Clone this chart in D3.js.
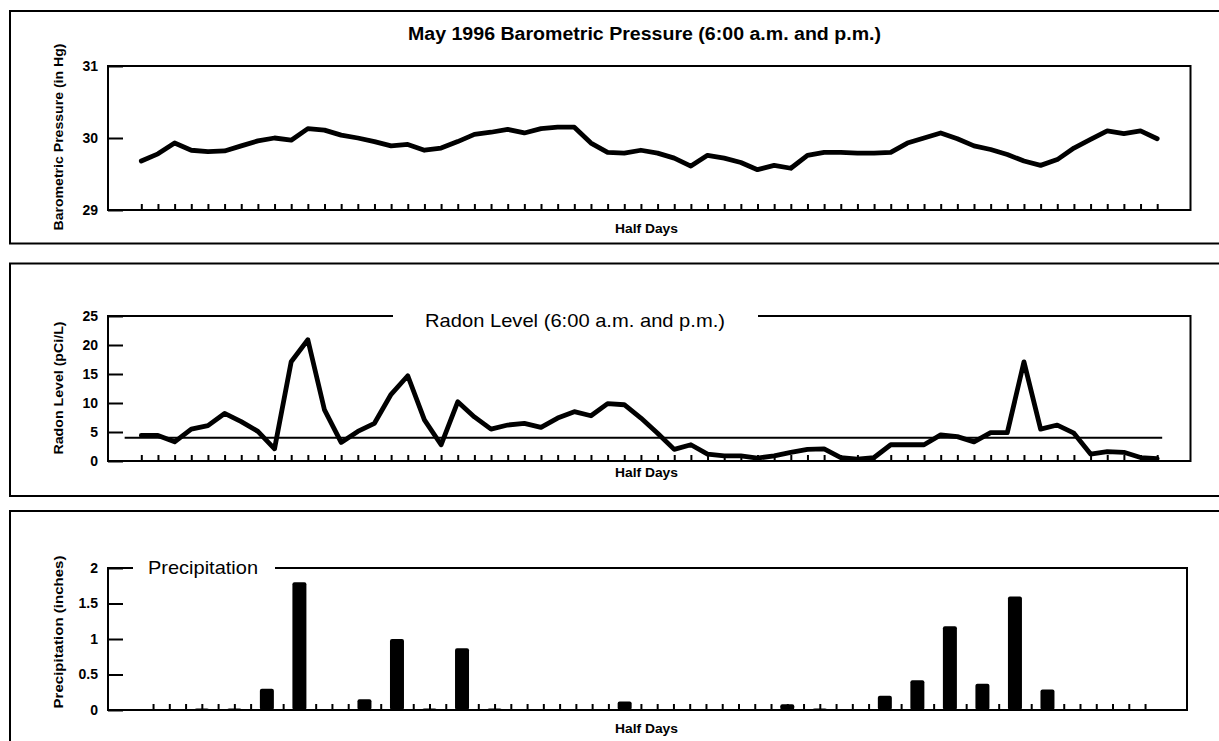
<!DOCTYPE html>
<html>
<head>
<meta charset="utf-8">
<script src="https://cdn.jsdelivr.net/npm/d3@7"></script>
<style>
  body { margin: 0; background: #fff; }
  text { font-family: "Liberation Sans", Arial, Helvetica, sans-serif; fill: #000; }
</style>
</head>
<body>
<svg id="chart" width="1219" height="741"></svg>
<script>
// Half-day readings for May 1996: index 0 = May 1 6:00 a.m., index 61 = May 31 6:00 p.m.
const halfDays = d3.range(62);

// Barometric pressure (in Hg)
const pressure = [
  29.68, 29.78, 29.93, 29.83, 29.81, 29.82, 29.89, 29.96, 30.00, 29.97,
  30.13, 30.11, 30.04, 30.00, 29.95, 29.89, 29.91, 29.83, 29.86, 29.95,
  30.05, 30.08, 30.12, 30.07, 30.13, 30.15, 30.15, 29.93, 29.80, 29.79,
  29.83, 29.79, 29.72, 29.61, 29.76, 29.72, 29.66, 29.56, 29.62, 29.58,
  29.76, 29.80, 29.80, 29.79, 29.79, 29.80, 29.93, 30.00, 30.07, 29.99,
  29.89, 29.84, 29.77, 29.68, 29.62, 29.70, 29.86, 29.98, 30.10, 30.06,
  30.10, 29.99
];

// Radon level (pCi/L)
const radon = [
  4.4, 4.4, 3.3, 5.5, 6.1, 8.2, 6.8, 5.1, 2.1, 17.1,
  20.9, 8.8, 3.2, 5.1, 6.5, 11.5, 14.7, 7.1, 2.8, 10.2,
  7.6, 5.5, 6.2, 6.5, 5.8, 7.4, 8.5, 7.8, 9.9, 9.7,
  7.4, 4.8, 2.0, 2.8, 1.2, 0.9, 0.9, 0.5, 0.9, 1.5,
  2.0, 2.1, 0.6, 0.3, 0.6, 2.8, 2.8, 2.8, 4.5, 4.2,
  3.3, 4.9, 4.9, 17.1, 5.5, 6.2, 4.8, 1.2, 1.6, 1.5,
  0.6, 0.4
];
const radonActionLevel = 4;

// Precipitation (inches)
const precipitation = [
  0, 0, 0, 0.02, 0, 0.02, 0, 0.30, 0, 1.80,
  0, 0, 0, 0.15, 0, 1.00, 0, 0.02, 0, 0.87,
  0, 0.02, 0, 0, 0, 0, 0, 0, 0, 0.12,
  0, 0, 0, 0, 0, 0, 0, 0, 0, 0.08,
  0, 0.02, 0, 0, 0, 0.20, 0, 0.42, 0, 1.18,
  0, 0.37, 0, 1.60, 0, 0.29, 0, 0, 0, 0,
  0, 0
];

const pressureTicks = [29, 30, 31];
const radonTicks = [0, 5, 10, 15, 20, 25];
const precipTicks = [0, 0.5, 1, 1.5, 2];

const svg = d3.select("#chart");

// Outer panel frames (open to the right edge)
[[11, 243.5], [263.5, 496], [511, 745]].forEach(([t, b]) => {
  svg.append("rect")
    .attr("x", 10).attr("y", t)
    .attr("width", 1240).attr("height", b - t)
    .attr("fill", "none").attr("stroke", "#000").attr("stroke-width", 2);
});

function yAxis(g, y, ticks, fmt) {
  g.call(d3.axisLeft(y).tickValues(ticks).tickSizeInner(-15).tickSizeOuter(0)
    .tickPadding(10).tickFormat(fmt));
  g.select(".domain").remove();
  g.selectAll(".tick line").attr("stroke", "#000").attr("stroke-width", 2);
  g.selectAll(".tick text").attr("font-size", 14).attr("font-weight", "bold")
    .attr("font-family", "'Liberation Sans', Arial, sans-serif").attr("fill", "#000");
}

function xAxis(g, x) {
  g.call(d3.axisBottom(x).tickValues(halfDays).tickSizeInner(-6).tickSizeOuter(0).tickFormat(""));
  g.select(".domain").remove();
  g.selectAll(".tick line").attr("stroke", "#000").attr("stroke-width", 2);
}

function frame(g, l, r, t, b, gap) {
  const p = d3.path();
  if (gap) {
    p.moveTo(gap[1], t); p.lineTo(r, t); p.lineTo(r, b); p.lineTo(l, b); p.lineTo(l, t); p.lineTo(gap[0], t);
  } else {
    p.moveTo(l, t); p.lineTo(r, t); p.lineTo(r, b); p.lineTo(l, b); p.closePath();
  }
  g.append("path").attr("d", p.toString()).attr("fill", "none")
    .attr("stroke", "#000").attr("stroke-width", 2).attr("stroke-linejoin", "miter");
}

function sideLabel(text, cy, len) {
  svg.append("text")
    .attr("transform", `translate(63,${cy}) rotate(-90)`)
    .attr("text-anchor", "middle")
    .attr("font-size", 12).attr("font-weight", "bold")
    .attr("textLength", len).attr("lengthAdjust", "spacingAndGlyphs")
    .text(text);
}

function halfDaysLabel(yPos) {
  svg.append("text")
    .attr("x", 646.5).attr("y", yPos)
    .attr("text-anchor", "middle")
    .attr("font-size", 12.5).attr("font-weight", "bold")
    .attr("textLength", 63).attr("lengthAdjust", "spacingAndGlyphs")
    .text("Half Days");
}

const lineStyle = sel => sel.attr("fill", "none").attr("stroke", "#000")
  .attr("stroke-width", 4.8).attr("stroke-linejoin", "round").attr("stroke-linecap", "round");

// ---------- Barometric pressure ----------
{
  const L = 108, R = 1190.5, T = 66, B = 210;
  const x = d3.scaleLinear().domain([-2, 63]).range([L, R]);
  const y = d3.scaleLinear().domain([29, 31]).range([B, T]);
  const g = svg.append("g");

  svg.append("text").attr("x", 644.5).attr("y", 40)
    .attr("text-anchor", "middle").attr("font-size", 18).attr("font-weight", "bold")
    .attr("textLength", 473).attr("lengthAdjust", "spacingAndGlyphs")
    .text("May 1996 Barometric Pressure (6:00 a.m. and p.m.)");

  g.append("g").attr("transform", `translate(${L},0)`).call(yAxis, y, pressureTicks, d3.format("d"));
  g.append("g").attr("transform", `translate(0,${B})`).call(xAxis, x);
  frame(g, L, R, T, B, null);

  g.append("path").datum(pressure)
    .attr("d", d3.line().x((d, i) => x(halfDays[i])).y(d => y(d)))
    .call(lineStyle);

  sideLabel("Barometric Pressure (in Hg)", 137, 187);
  halfDaysLabel(233);
}

// ---------- Radon level ----------
{
  const L = 108, R = 1190.5, T = 316, B = 461;
  const x = d3.scaleLinear().domain([-2, 63]).range([L, R]);
  const y = d3.scaleLinear().domain([0, 25]).range([B, T]);
  const g = svg.append("g");

  svg.append("text").attr("x", 425).attr("y", 327)
    .attr("font-size", 19)
    .attr("textLength", 300).attr("lengthAdjust", "spacingAndGlyphs")
    .text("Radon Level (6:00 a.m. and p.m.)");

  g.append("g").attr("transform", `translate(${L},0)`).call(yAxis, y, radonTicks, d3.format("d"));
  g.append("g").attr("transform", `translate(0,${B})`).call(xAxis, x);
  frame(g, L, R, T, B, [425 - 32, 425 + 300 + 33]);

  // 4 pCi/L action level
  g.append("line")
    .attr("x1", x(-1)).attr("x2", x(61.3))
    .attr("y1", y(radonActionLevel)).attr("y2", y(radonActionLevel))
    .attr("stroke", "#000").attr("stroke-width", 2);

  g.append("path").datum(radon)
    .attr("d", d3.line().x((d, i) => x(halfDays[i])).y(d => y(d)))
    .call(lineStyle);

  sideLabel("Radon Level (pCi/L)", 388, 133);
  halfDaysLabel(477);
}

// ---------- Precipitation ----------
{
  const L = 108, R = 1187, T = 568, B = 710;
  const x = d3.scaleLinear().domain([-2.77, 63.58]).range([L, R]);
  const y = d3.scaleLinear().domain([0, 2]).range([B, T]);
  const g = svg.append("g");
  const barW = 14;

  svg.append("text").attr("x", 148).attr("y", 574)
    .attr("font-size", 19)
    .attr("textLength", 110).attr("lengthAdjust", "spacingAndGlyphs")
    .text("Precipitation");

  g.append("g").attr("transform", `translate(${L},0)`).call(yAxis, y, precipTicks, d => d3.format("")(d));
  g.append("g").attr("transform", `translate(0,${B})`).call(xAxis, x);

  g.append("g").selectAll("rect")
    .data(precipitation.map((v, i) => ({ i: halfDays[i], v })).filter(d => d.v > 0))
    .join("rect")
    .attr("x", d => x(d.i) - barW / 2)
    .attr("y", d => y(d.v))
    .attr("width", barW)
    .attr("height", d => B - y(d.v))
    .attr("rx", 2)
    .attr("fill", "#000");

  frame(g, L, R, T, B, [133, 275]);

  sideLabel("Precipitation (inches)", 632, 153);
  halfDaysLabel(733);
}
</script>
</body>
</html>
